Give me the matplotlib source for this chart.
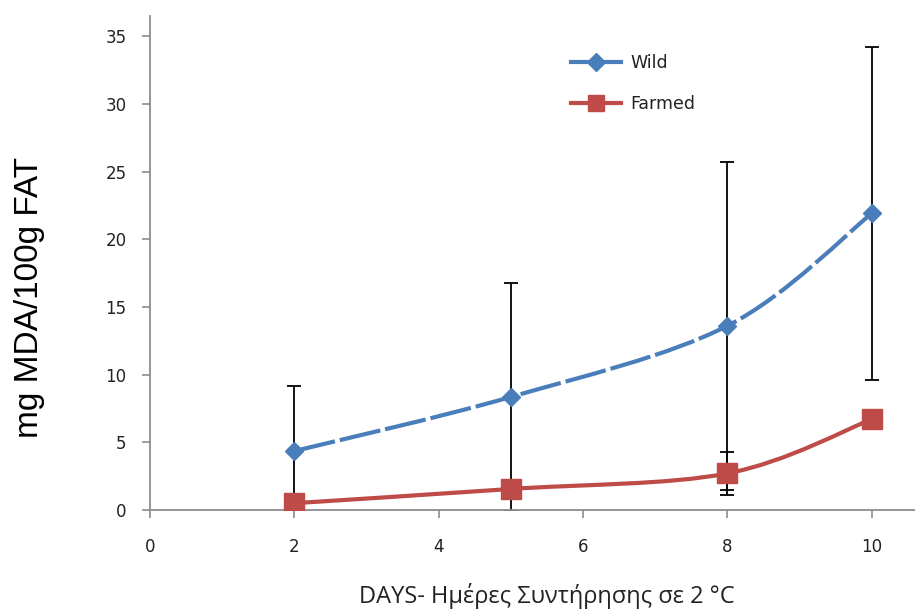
import matplotlib.pyplot as plt
from matplotlib.path import Path
from matplotlib.patches import PathPatch
import numpy as np

# data
days = [2, 5, 8, 10]
wild = [4.35, 8.35, 13.6, 21.9]
wild_err = [4.8, 8.4, 12.1, 12.3]
farmed = [0.5, 1.55, 2.7, 6.7]
farmed_err = [0.3, 0.5, 1.6, 0.5]

blue = '#4A7EBB'
red = '#BE4B48'


def smooth_path(x, y):
    # Excel-style smoothed line: cubic bezier segments through the points
    pts = np.column_stack([x, y]).astype(float)
    ext = np.vstack([pts[0], pts, pts[-1]])
    verts = [pts[0]]
    codes = [Path.MOVETO]
    for i in range(len(pts) - 1):
        p0, p1, p2, p3 = ext[i], ext[i + 1], ext[i + 2], ext[i + 3]
        c1 = p1 + (p2 - p0) / 6.0
        c2 = p2 - (p3 - p1) / 6.0
        verts += [c1, c2, p2]
        codes += [Path.CURVE4] * 3
    return Path(verts, codes)


fig = plt.figure(figsize=(9.15, 6.1), dpi=100)
ax = fig.add_axes([0.164, 0.164, 0.836, 0.81])

ax.errorbar(days, wild, yerr=wild_err, fmt='none', ecolor='black',
            elinewidth=1.3, capsize=5, capthick=1.3, zorder=2)
ax.errorbar(days, farmed, yerr=farmed_err, fmt='none', ecolor='black',
            elinewidth=1.3, capsize=5, capthick=1.3, zorder=2)

ax.add_patch(PathPatch(smooth_path(days, wild), fill=False, edgecolor=blue,
                       lw=3, linestyle=(0, (10, 1.2)), zorder=3))
ax.add_patch(PathPatch(smooth_path(days, farmed), fill=False, edgecolor=red,
                       lw=3, zorder=3))
ax.plot(days, wild, 'D', color=blue, markersize=9, zorder=4)
ax.plot(days, farmed, 's', color=red, markersize=15, zorder=4)

# legend handles
ax.plot([], [], '-D', color=blue, lw=3, markersize=9, label='Wild')
ax.plot([], [], '-s', color=red, lw=3, markersize=12, label='Farmed')
leg = ax.legend(loc='upper left', bbox_to_anchor=(0.53, 0.955), frameon=False,
                handlelength=2.9, labelspacing=1.35, handletextpad=0.5,
                prop={'family': 'DejaVu Sans', 'size': 12.5})
for t in leg.get_texts():
    t.set_color('#222222')

ax.set_xlim(0, 10.6)
ax.set_ylim(0, 36.5)
ax.set_xticks([0, 2, 4, 6, 8, 10])
ax.set_yticks(range(0, 36, 5))
ax.spines['top'].set_visible(False)
ax.spines['right'].set_visible(False)
for s in ['left', 'bottom']:
    ax.spines[s].set_color('#8c8c8c')
    ax.spines[s].set_linewidth(1.3)
ax.tick_params(direction='out', length=6, width=1.2, color='#8c8c8c',
               labelsize=12, labelcolor='#222222')
ax.tick_params(axis='x', pad=14)
ax.tick_params(axis='y', pad=11)
for lab in ax.get_xticklabels() + ax.get_yticklabels():
    lab.set_family('DejaVu Sans')

ax.set_ylabel('mg MDA/100g FAT', fontsize=24, family='Liberation Sans')
ax.yaxis.set_label_coords(-0.137, 0.43)
ax.set_xlabel('DAYS- Ημέρες Συντήρησης σε 2 °C', fontsize=17,
              family='Open Sans', color='#222222', va='top')
ax.xaxis.set_label_coords(0.519, -0.148)

fig.savefig('out.png', dpi=100)
